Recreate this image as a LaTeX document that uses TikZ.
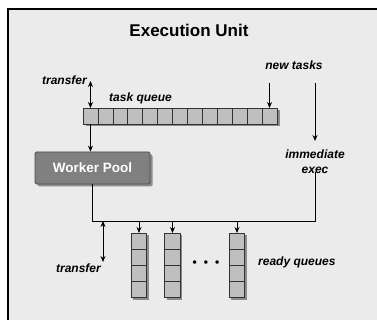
\documentclass[tikz,border=0pt]{standalone}
\usepackage{fontspec}
\setmainfont{Liberation Sans}
\usetikzlibrary{arrows.meta}
\begin{document}
\begin{tikzpicture}[x=1pt,y=-1pt,
  lbl/.style={font=\fontsize{12}{15}\selectfont\bfseries\itshape, inner sep=0pt},
  cell/.style={draw=black!80, fill=black!25, line width=0.6pt, minimum width=14.92pt, minimum height=16pt, inner sep=0pt, outer sep=0pt},
  rcell/.style={draw=black!80, fill=black!25, line width=0.6pt, minimum width=15.5pt, minimum height=16pt, inner sep=0pt, outer sep=0pt},
  arr/.style={-{Stealth[length=6pt,width=5pt]}, line width=0.8pt},
  darr/.style={{Stealth[length=6pt,width=5pt]}-{Stealth[length=6pt,width=5pt]}, line width=0.8pt},
  conn/.style={line width=0.8pt},
  shadow/.style={fill=black!45, draw=none}
]
\useasboundingbox (0,0) rectangle (377,320);
\begin{scope}
\clip (0,0) rectangle (377,320);
\fill[white] (0,0) rectangle (377,320);
\draw[fill=black!8, line width=1.2pt] (8,9) rectangle (390,330);
\end{scope}

\node[font=\fontsize{17}{20}\selectfont\bfseries] (title) at (189,30) {Execution Unit};

% task queue
\fill[shadow] (85.5,110.5) rectangle (279.5,126.5);
\foreach \i in {1,...,13} {
  \node[cell] (q\i) at ({83+(\i-0.5)*14.92},116) {};
}
\node[lbl, anchor=base west] (tq) at (109,102) {task queue};
\node[lbl, anchor=base east] (tr1) at (87,85) {transfer};
\coordinate (tr1top) at (90.5,81);
\draw[darr] (tr1top) -- (q1.north);

\node[lbl, anchor=base] (nt) at (294,70) {new tasks};
\coordinate (nttop) at (q13.north |- 0,83);
\draw[arr] (nttop) -- (q13.north);

\node[lbl, align=center, anchor=north] (ie) at (315,150) {immediate\\exec};
\coordinate (ietop) at (315,83);
\coordinate (iebot) at (315,141);
\draw[arr] (ietop) -- (iebot);

% worker pool
\fill[shadow, rounded corners=1.5pt] (37.5,154.5) rectangle (152.5,186.5);
\node[draw=black!70, fill=black!50, line width=0.8pt, rounded corners=1.5pt, minimum width=115pt, minimum height=32pt, inner sep=0pt, text=white, font=\fontsize{13.5}{16}\selectfont\bfseries] (wp) at (92.5,168) {Worker Pool};
\draw[arr] (q1.south) -- (q1.south |- wp.north);

% bus
\coordinate (busL) at (92,221);
\coordinate (busR) at (315,221);
\draw[conn] (wp.south -| busL) -- (busL) -- (busR) -- ([yshift=2pt]ie.south -| busR);

% transfer bottom
\coordinate (tr2top) at (103,221);
\coordinate (tr2bot) at (103,262);
\draw[darr] (tr2top) -- (tr2bot);
\node[lbl, anchor=base east] (tr2) at (101,272) {transfer};

% ready queues
\foreach \c/\x in {a/139,b/172.5,c/237} {
  \fill[shadow] (\x-5.75,235.5) rectangle (\x+9.75,299.5);
  \foreach \j in {1,...,4} {
    \node[rcell] (r\c\j) at (\x,{233+(\j-0.5)*16}) {};
  }
  \coordinate (t\c) at (\x,221);
  \draw[arr] (t\c) -- (r\c1.north);
}
\node[font=\fontsize{12}{14}\selectfont\bfseries, inner sep=0pt] (dots) at (206,264) {•\hspace{7pt}•\hspace{7pt}•};
\node[lbl, anchor=base west] (rq) at (258,265) {ready queues};
\end{tikzpicture}
\end{document}
